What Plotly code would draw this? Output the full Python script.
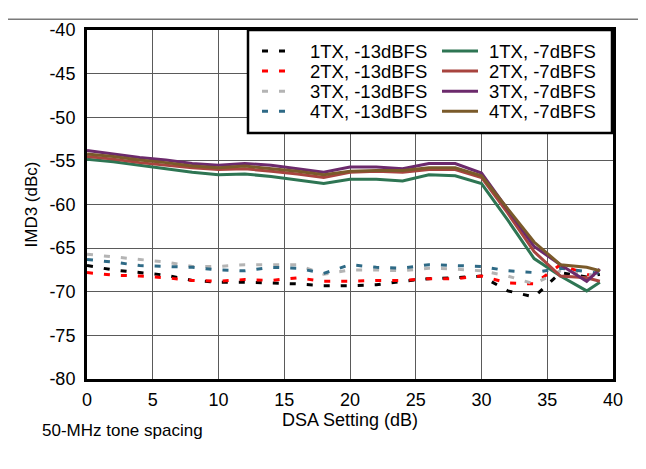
import plotly.graph_objects as go

dsa = [0, 2, 4, 6, 8, 10, 12, 14, 16, 18, 20, 22, 24, 26, 28, 30, 32, 34, 36, 38, 39]

tx1_m13 = [-67.0, -67.5, -67.8, -68.1, -68.7, -68.9, -68.9, -69.0, -69.1, -69.3, -69.3, -69.2, -68.8, -68.5, -68.4, -68.2, -69.9, -70.6, -67.8, -68.3, -68.0]
tx2_m13 = [-67.8, -68.1, -68.2, -68.4, -68.7, -68.8, -68.6, -68.7, -68.4, -68.8, -68.8, -68.7, -68.7, -68.5, -68.5, -68.2, -69.0, -69.1, -66.9, -68.0, -68.4]
tx3_m13 = [-65.7, -66.0, -66.3, -66.6, -67.1, -67.1, -66.9, -66.9, -66.9, -68.0, -67.5, -67.5, -67.6, -67.3, -67.4, -67.6, -68.2, -69.1, -67.6, -68.0, -68.2]
tx4_m13 = [-66.3, -66.6, -67.0, -67.1, -67.2, -67.5, -67.6, -67.2, -67.3, -67.9, -66.9, -67.2, -67.3, -66.9, -67.0, -67.1, -67.6, -67.8, -67.3, -67.7, -67.9]

tx1_m7 = [-54.8, -55.1, -55.5, -55.9, -56.3, -56.6, -56.5, -56.8, -57.2, -57.6, -57.1, -57.1, -57.3, -56.6, -56.7, -57.6, -61.8, -66.2, -68.2, -69.9, -68.9]
tx2_m7 = [-54.5, -54.8, -55.2, -55.5, -55.8, -56.0, -55.9, -56.2, -56.5, -56.9, -56.3, -56.2, -56.3, -56.0, -56.0, -56.9, -61.0, -65.4, -68.2, -68.4, -68.8]
tx3_m7 = [-53.8, -54.2, -54.6, -54.9, -55.3, -55.5, -55.3, -55.5, -55.9, -56.3, -55.7, -55.7, -55.9, -55.3, -55.3, -56.4, -60.6, -64.8, -66.9, -68.8, -67.4]
tx4_m7 = [-54.2, -54.5, -54.9, -55.2, -55.6, -55.8, -55.6, -55.9, -56.2, -56.6, -56.2, -56.1, -56.1, -55.8, -55.8, -56.7, -60.5, -64.3, -66.9, -67.2, -67.6]

x_ticks = [0, 5, 10, 15, 20, 25, 30, 35, 40]
y_ticks = [-80, -75, -70, -65, -60, -55, -50, -45, -40]
y_ticktext = ["-80", "-75", "-70", "-65", "-60", "-55", "-50", "-45", "-40"]

names_m13 = ["1TX, -13dBFS", "2TX, -13dBFS", "3TX, -13dBFS", "4TX, -13dBFS"]
names_m7 = ["1TX, -7dBFS", "2TX, -7dBFS", "3TX, -7dBFS", "4TX, -7dBFS"]
colors_m13 = ["#000000", "#ff0000", "#b4b4b4", "#2e6a86"]
colors_m7 = ["#2e7553", "#a8443f", "#6c2a6c", "#7a5a2a"]

series_m13 = [tx1_m13, tx2_m13, tx3_m13, tx4_m13]
series_m7 = [tx1_m7, tx2_m7, tx3_m7, tx4_m7]

DASH = "6px,11px"

fig = go.Figure()
for i in range(4):
    fig.add_trace(go.Scatter(x=dsa, y=series_m13[i], mode="lines", name=names_m13[i],
                             line=dict(color=colors_m13[i], width=3, dash=DASH)))
for i in range(4):
    fig.add_trace(go.Scatter(x=dsa, y=series_m7[i], mode="lines", name=names_m7[i],
                             line=dict(color=colors_m7[i], width=3)))

# page-pixel -> paper coordinates (plot area: x 87..613, y 20..379 on the page)
def px(xp):
    return (xp - 87) / 526.0

def py(yp):
    return (379 - yp) / 359.0

font = "Liberation Sans, Arial, sans-serif"

shapes = [
    dict(type="line", xref="paper", yref="paper", x0=px(0), x1=px(660), y0=py(9), y1=py(9),
         line=dict(color="#7a7a7a", width=1.5)),
    dict(type="rect", xref="paper", yref="paper", x0=px(248), x1=px(612), y0=py(126), y1=py(20),
         line=dict(color="black", width=2.5), fillcolor="white", layer="above"),
]
annotations = [
    dict(text="50-MHz tone spacing", xref="paper", yref="paper", x=px(40), y=py(432),
         xanchor="left", yanchor="middle", showarrow=False, font=dict(size=17)),
]
row_y = [41.7, 62.3, 83.0, 103.7]
for i in range(4):
    yv = py(row_y[i])
    shapes.append(dict(type="line", xref="paper", yref="paper", x0=px(262), x1=px(288),
                       y0=yv, y1=yv, layer="above",
                       line=dict(color=colors_m13[i], width=3, dash=DASH)))
    shapes.append(dict(type="line", xref="paper", yref="paper", x0=px(442), x1=px(478),
                       y0=yv, y1=yv, layer="above",
                       line=dict(color=colors_m7[i], width=3)))
    annotations.append(dict(text=names_m13[i], xref="paper", yref="paper", x=px(308), y=yv,
                            xanchor="left", yanchor="middle", showarrow=False,
                            font=dict(size=18.5)))
    annotations.append(dict(text=names_m7[i], xref="paper", yref="paper", x=px(487), y=yv,
                            xanchor="left", yanchor="middle", showarrow=False,
                            font=dict(size=18.5)))

fig.update_layout(
    width=646, height=469,
    margin=dict(l=79, r=41, t=12, b=98),
    paper_bgcolor="white", plot_bgcolor="white",
    font=dict(family=font, size=17, color="black"),
    showlegend=False,
    xaxis=dict(range=[0, 40], tickvals=x_ticks, showgrid=True, gridcolor="#5a5a5a", gridwidth=1,
               showline=True, linecolor="black", linewidth=3, mirror=True,
               ticks="", zeroline=False, tickfont=dict(size=18), ticklabelstandoff=2,
               title=dict(text="DSA Setting (dB)", font=dict(size=18), standoff=4)),
    yaxis=dict(range=[-80, -40], tickvals=y_ticks, ticktext=y_ticktext, showgrid=True,
               gridcolor="#5a5a5a", gridwidth=1,
               showline=True, linecolor="black", linewidth=3, mirror=True,
               ticks="", zeroline=False, tickfont=dict(size=18), ticklabelstandoff=5,
               title=dict(text="IMD3 (dBc)", font=dict(size=17), standoff=8)),
    shapes=shapes,
    annotations=annotations,
)

fig.write_html("out.html")
